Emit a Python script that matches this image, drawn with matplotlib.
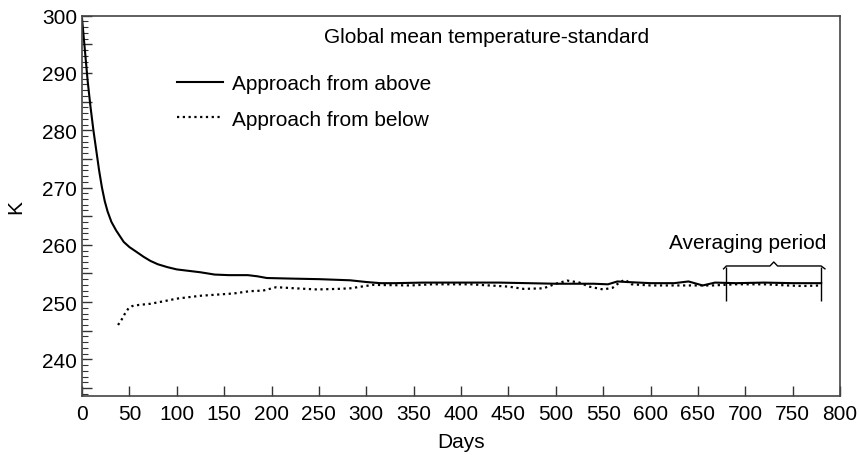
import matplotlib.pyplot as plt
from matplotlib.ticker import MultipleLocator, FuncFormatter

plt.rcParams['font.family'] = ['Liberation Sans', 'DejaVu Sans']

# approach from above (days, K)
days_above = [0, 3, 6, 9, 12, 15, 18, 21, 24, 27, 31, 36, 40, 44, 50, 58, 65, 72, 80, 90,
              100, 115, 125, 140, 155, 175, 185, 195, 220, 250, 283, 300, 315, 330, 360,
              440, 500, 540, 555, 565, 575, 600, 625, 640, 655, 668, 690, 720, 750, 780]
temp_above = [299.5, 294.0, 288.5, 284.0, 280.0, 276.5, 273.0, 270.0, 267.6, 265.8, 264.0,
              262.5, 261.5, 260.5, 259.6, 258.7, 257.9, 257.2, 256.6, 256.1, 255.7, 255.4,
              255.2, 254.8, 254.7, 254.7, 254.5, 254.2, 254.1, 254.0, 253.8, 253.5, 253.3,
              253.3, 253.4, 253.4, 253.2, 253.2, 253.1, 253.6, 253.5, 253.3, 253.3, 253.6,
              252.9, 253.4, 253.3, 253.4, 253.3, 253.3]

# approach from below (days, K)
days_below = [38, 42, 45, 49, 53, 60, 72, 85, 100, 125, 160, 177, 191, 205, 225, 248, 270,
              283, 307, 346, 370, 410, 430, 450, 466, 487, 500, 512, 525, 535, 550, 560,
              567, 573, 580, 600, 640, 665, 690, 720, 745, 760, 780]
temp_below = [246.0, 247.0, 247.9, 248.9, 249.3, 249.5, 249.7, 250.1, 250.6, 251.1, 251.5,
              251.9, 252.0, 252.6, 252.4, 252.2, 252.3, 252.4, 253.0, 252.9, 253.1, 253.1,
              252.9, 252.7, 252.3, 252.4, 253.2, 253.75, 253.4, 252.7, 252.2, 252.5, 253.4,
              253.9, 253.1, 252.9, 252.9, 252.9, 253.1, 253.1, 252.9, 252.8, 252.9]

avg_start, avg_end = 680, 780

fig = plt.figure(figsize=(8.59, 4.56), dpi=100)
ax = fig.add_axes([0.0955, 0.1294, 0.8825, 0.8340])

ax.plot(days_above, temp_above, color='black', lw=1.5, label='Approach from above')
ax.plot(days_below, temp_below, color='black', lw=1.6, linestyle=(0, (1, 1.6)),
        label='Approach from below')

# averaging period bracket
ax.vlines([avg_start, avg_end], 250.1, 256.2, color='black', lw=1)
mid = (avg_start + avg_end) / 2
bx = [avg_start - 3, avg_start, mid - 4, mid, mid + 4, avg_end, avg_end + 4]
by = [255.8, 256.3, 256.3, 257.0, 256.3, 256.3, 255.8]
ax.plot(bx, by, color='black', lw=1)
ax.text(702, 259.4, 'Averaging period', fontsize=15, ha='center', va='baseline')

ax.text(427, 296.3, 'Global mean temperature-standard', fontsize=15, ha='center', va='center')

ax.legend(loc='upper left', bbox_to_anchor=(0.125, 0.847), frameon=False, fontsize=15,
          handlelength=2.2, handletextpad=0.45, labelspacing=0.8, borderpad=0,
          borderaxespad=0)

ax.set_xlim(0, 800)
ax.set_ylim(233.6, 300)
ax.xaxis.set_major_locator(MultipleLocator(50))
ax.yaxis.set_major_locator(MultipleLocator(5))
ax.yaxis.set_minor_locator(MultipleLocator(1))
ax.yaxis.set_major_formatter(FuncFormatter(lambda v, p: f'{v:.0f}' if v % 10 == 0 else ''))
ax.tick_params(direction='in', labelsize=15, length=7.5, width=1, colors='#333333',
               labelcolor='black')
ax.tick_params(axis='y', which='minor', direction='in', length=4.5, width=0.8, colors='#333333')
ax.tick_params(axis='x', pad=6)
for s in ax.spines.values():
    s.set_color('#444444')
    s.set_linewidth(1.2)

ax.set_xlabel('Days', fontsize=15, labelpad=6)
ax.set_ylabel('K', fontsize=15, labelpad=12)

fig.savefig('out.png', dpi=100)
